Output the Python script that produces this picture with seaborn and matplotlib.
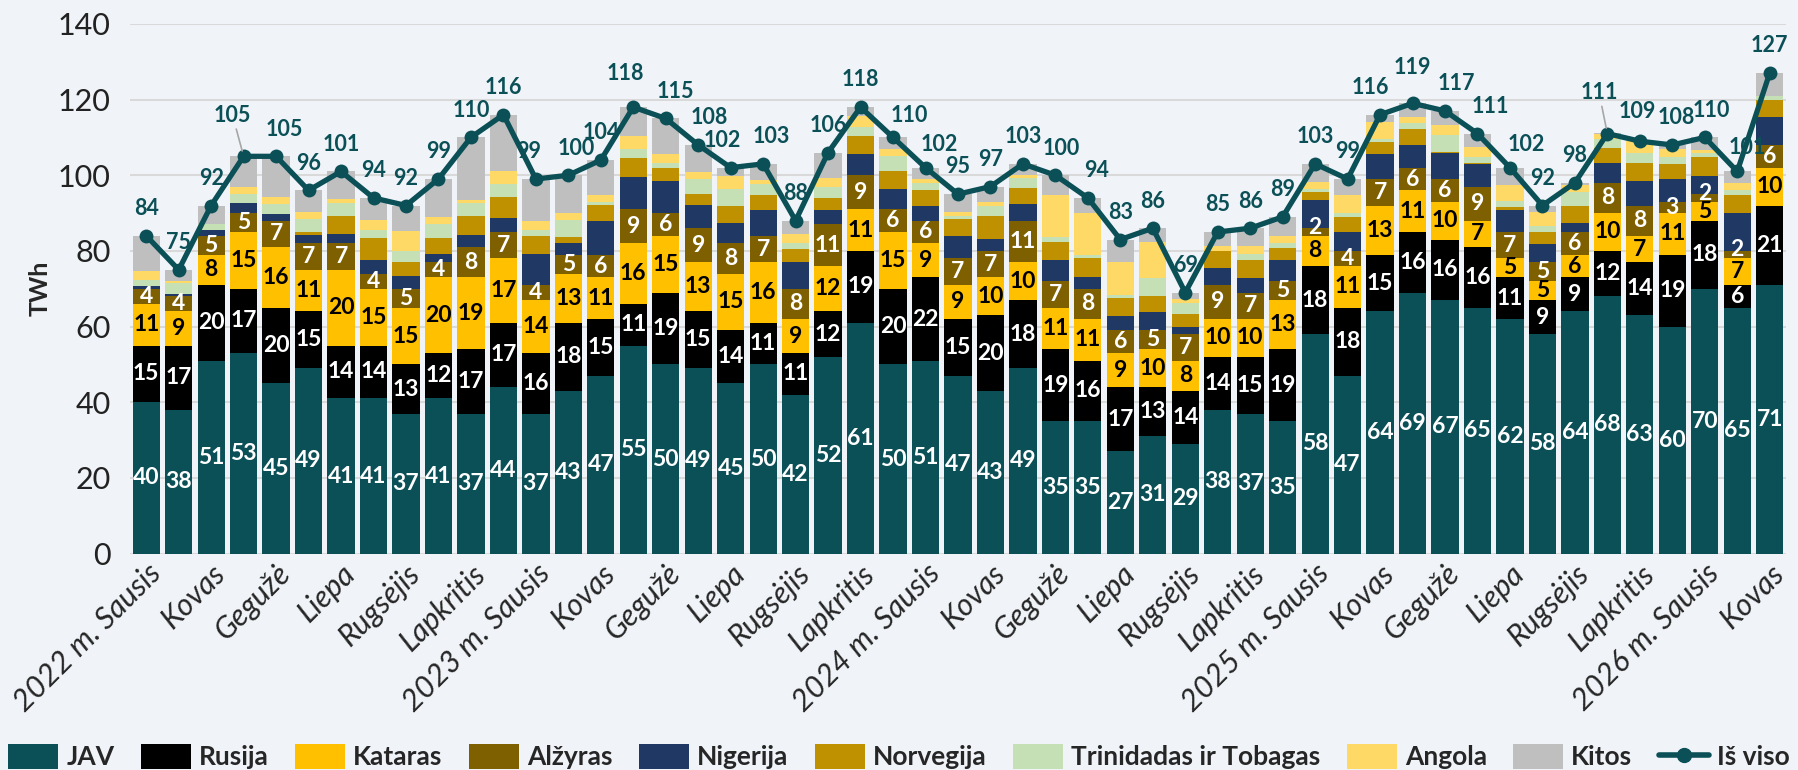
import numpy as np
import pandas as pd
import matplotlib
matplotlib.use("Agg")
import matplotlib.pyplot as plt
from matplotlib import font_manager
import seaborn as sns
from matplotlib.patches import Patch
from matplotlib.lines import Line2D

# --- data (TWh), 2022-01 .. 2026-03 ---
month_names = ["Sausis", "Vasaris", "Kovas", "Balandis", "Gegužė", "Birželis",
               "Liepa", "Rugpjūtis", "Rugsėjis", "Spalis", "Lapkritis", "Gruodis"]
years = [2022, 2023, 2024, 2025, 2026]

jav = [40, 38, 51, 53, 45, 49, 41, 41, 37, 41, 37, 44,
       37, 43, 47, 55, 50, 49, 45, 50, 42, 52, 61, 50,
       51, 47, 43, 49, 35, 35, 27, 31, 29, 38, 37, 35,
       58, 47, 64, 69, 67, 65, 62, 58, 64, 68, 63, 60,
       70, 65, 71]
rusija = [15, 17, 20, 17, 20, 15, 14, 14, 13, 12, 17, 17,
          16, 18, 15, 11, 19, 15, 14, 11, 11, 12, 19, 20,
          22, 15, 20, 18, 19, 16, 17, 13, 14, 14, 15, 19,
          18, 18, 15, 16, 16, 16, 11, 9, 9, 12, 14, 19,
          18, 6, 21]
kataras = [11, 9, 8, 15, 16, 11, 20, 15, 15, 20, 19, 17,
           14, 13, 11, 16, 15, 13, 15, 16, 9, 12, 11, 15,
           9, 9, 10, 10, 11, 11, 9, 10, 8, 10, 10, 13,
           8, 11, 13, 11, 10, 7, 5, 5, 6, 10, 7, 11,
           5, 7, 10]
alzyras = [4, 4, 5, 5, 7, 7, 7, 4, 5, 4, 8, 7,
           4, 5, 6, 9, 6, 9, 8, 7, 8, 11, 9, 6,
           6, 7, 7, 11, 7, 8, 6, 5, 7, 9, 7, 5,
           2, 4, 7, 6, 6, 9, 7, 5, 6, 8, 8, 3,
           2, 2, 6]
nigerija = [0.6, 0.5, 1.4, 2.6, 1.8, 2.2, 2.5, 3.5, 3.3, 2.1, 3.1, 3.7,
            8.2, 3.1, 9.0, 8.5, 8.6, 6.2, 5.4, 6.8, 7.0, 3.7, 5.5, 5.3,
            3.9, 5.9, 3.2, 4.4, 5.5, 3.2, 3.9, 4.8, 1.9, 4.4, 3.9, 5.6,
            7.5, 5.0, 6.6, 5.9, 6.8, 6.0, 5.9, 4.8, 2.4, 5.2, 6.6, 5.9,
            4.9, 9.9, 7.5]
norvegija = [0, 0, 0, 0, 0, 0.7, 4.8, 5.9, 3.7, 4.4, 5.0, 5.5,
             4.8, 1.7, 4.2, 5.0, 3.2, 2.8, 4.5, 3.9, 3.5, 3.3, 4.8, 4.7,
             4.2, 4.6, 5.9, 4.3, 4.8, 4.8, 4.6, 4.4, 3.3, 4.6, 4.8, 3.2,
             2.0, 4.0, 3.1, 4.2, 0.4, 0.3, 0.6, 3.1, 4.4, 4.0, 4.6, 4.0,
             5.0, 5.0, 4.4]
trinidadas = [1.7, 2.9, 1.6, 2.4, 2.6, 3.5, 3.3, 2.2, 3.1, 3.7, 3.5, 3.5,
              1.5, 4.4, 0.8, 2.5, 1.3, 4.1, 4.4, 3.1, 1.5, 2.9, 2.4, 4.2,
              1.9, 0.8, 2.9, 2.6, 1.3, 0.9, 0.9, 4.6, 3.1, 0.0, 1.6, 1.3,
              0.9, 0.9, 0.9, 1.8, 4.4, 1.5, 1.8, 1.8, 3.8, 2.3, 2.8, 1.9,
              0.9, 1.1, 1.1]
angola = [2.5, 0.6, 0, 1.8, 1.8, 1.8, 1.0, 2.5, 5.1, 1.7, 0.9, 3.3,
          2.3, 1.8, 1.8, 3.3, 2.5, 1.8, 3.4, 1.0, 2.6, 2.4, 2.9, 1.6,
          0.9, 0.9, 0.9, 0.7, 11.2, 11.1, 8.7, 9.6, 0.9, 1.4, 1.9, 1.8,
          1.7, 4.8, 4.4, 1.6, 2.6, 2.6, 4.1, 3.5, 1.8, 1.3, 3.0, 2.2,
          0.9, 2.0, 0]
kitos = [9.2, 3.0, 5.0, 8.2, 10.8, 5.8, 7.4, 5.9, 6.8, 10.1, 16.5, 15.0,
         11.2, 10.0, 9.2, 7.7, 9.4, 7.1, 2.3, 4.2, 3.4, 6.7, 2.4, 3.2,
         3.1, 4.8, 4.1, 3.0, 5.2, 4.0, 5.9, 3.6, 1.8, 3.6, 4.8, 5.1,
         4.9, 4.3, 2.0, 3.5, 3.8, 3.6, 4.6, 1.8, 0.6, 0.3, 0.0, 1.0,
         3.3, 3.0, 6.0]
is_viso = [84, 75, 92, 105, 105, 96, 101, 94, 92, 99, 110, 116,
           99, 100, 104, 118, 115, 108, 102, 103, 88, 106, 118, 110,
           102, 95, 97, 103, 100, 94, 83, 86, 69, 85, 86, 89,
           103, 99, 116, 119, 117, 111, 102, 92, 98, 111, 109, 108,
           110, 101, 127]

series = [
    ("JAV", jav, "#0B4F57", "white", True),
    ("Rusija", rusija, "#000000", "white", True),
    ("Kataras", kataras, "#FFC000", "black", True),
    ("Alžyras", alzyras, "#7F6000", "white", True),
    ("Nigerija", nigerija, "#203864", None, False),
    ("Norvegija", norvegija, "#BF9000", None, False),
    ("Trinidadas ir Tobagas", trinidadas, "#C5E0B4", None, False),
    ("Angola", angola, "#FFD966", None, False),
    ("Kitos", kitos, "#BFBFBF", None, False),
]
line_color = "#0B4F57"
bg = "#F0F4F8"

# nudges (points) for crowded total labels; leader lines for two of them
label_nudge = {3: (-8, 10), 4: (6, 0), 12: (-5, 0), 13: (6, 0),
               15: (-6, 5), 16: (7, 0), 17: (8, 0), 18: (-6, 0), 19: (6, 0),
               23: (12, -4), 24: (10, -3), 28: (4, 0), 29: (6, 0),
               38: (-7, 0), 39: (0, 6), 40: (8, 0), 41: (9, 0), 42: (12, -3),
               45: (-6, 10), 46: (-2, 2), 47: (3, 0), 48: (5, 0), 49: (7, -2)}
leader = {3, 45}

# month keys and tick labels
keys = []
labels = []
for i in range(len(jav)):
    y = years[i // 12]
    m = month_names[i % 12]
    keys.append(f"{y}-{i % 12 + 1:02d}")
    labels.append(f"{y} m. {m}" if i % 12 == 0 else m)

sns.set_theme(style="white")
plt.rcParams["font.family"] = ["Lato", "DejaVu Sans"]

installed = {f.name for f in font_manager.fontManager.ttflist}
legend_family = "Liberation Sans Narrow" if "Liberation Sans Narrow" in installed else "Lato"

fig = plt.figure(figsize=(17.98, 7.7), dpi=100, facecolor=bg)
ax = fig.add_axes([0.0723, 0.281, 0.921, 0.688])
ax.set_facecolor(bg)

x = np.arange(len(jav))
bottom = np.zeros(len(jav))
for name, vals, col, tcol, show in series:
    vals = np.array(vals, dtype=float)
    df = pd.DataFrame({"m": keys, "v": vals})
    sns.barplot(data=df, x="m", y="v", order=keys, color=col, width=0.84,
                bottom=bottom, saturation=1, ax=ax, linewidth=0, zorder=2)
    if show:
        for xi, b, v in zip(x, bottom, vals):
            # thin segments: lift the number a little so it clears the one below
            ymid = b + v / 2 + (1.3 if v < 3 else 0)
            ax.text(xi, ymid, f"{int(v)}", ha="center", va="center",
                    color=tcol, fontsize=16.5, fontweight="bold", zorder=4)
    bottom = bottom + vals

sns.lineplot(x=x, y=is_viso, color=line_color, linewidth=3.8, marker="o",
             markersize=10, markeredgewidth=0, ax=ax, zorder=5)
for xi, t in zip(x, is_viso):
    dx, dy = label_nudge.get(xi, (0, 0))
    arrow = dict(arrowstyle="-", color="#A6A6A6", lw=1.2, shrinkA=0, shrinkB=4) if xi in leader else None
    ax.annotate(f"{t}", (xi, t), xytext=(dx, 12 + dy), textcoords="offset points",
                ha="center", va="bottom", color=line_color, fontsize=15.5,
                fontweight="bold", zorder=6, arrowprops=arrow)

ax.set_xlim(-0.5, len(jav) - 0.5)
ax.set_ylim(0, 140)
ax.set_yticks(range(0, 141, 20))
ax.yaxis.grid(True, color="#D9D9D9", linewidth=1.5, zorder=0)
ax.set_axisbelow(True)
for s in ax.spines.values():
    s.set_visible(False)
ax.tick_params(axis="y", labelsize=22, pad=14, length=0, labelcolor="#222222")
ax.set_ylabel("TWh", fontsize=18, fontweight="bold", labelpad=4)
ax.set_xlabel("")
ax.set_xticks(x[::2])
ax.set_xticklabels(labels[::2], rotation=45, ha="right", rotation_mode="anchor",
                   fontsize=22, fontstyle="italic")
ax.tick_params(axis="x", length=0, pad=4)

handles = [Patch(facecolor=c, edgecolor="none") for _, _, c, _, _ in series]
handles.append(Line2D([0], [0], color=line_color, linewidth=4, marker="o", markersize=10))
names = [n for n, _, _, _, _ in series] + ["Iš viso"]
fig.legend(handles, names, loc="lower center", ncol=10, frameon=False,
           bbox_to_anchor=(0.5, -0.03),
           prop={"family": legend_family, "size": 22 if legend_family != "Lato" else 19,
                 "weight": "bold"},
           handlelength=1.9, handleheight=1.1, handletextpad=0.3, columnspacing=1.0)

fig.savefig("out.png", dpi=100, facecolor=bg)
